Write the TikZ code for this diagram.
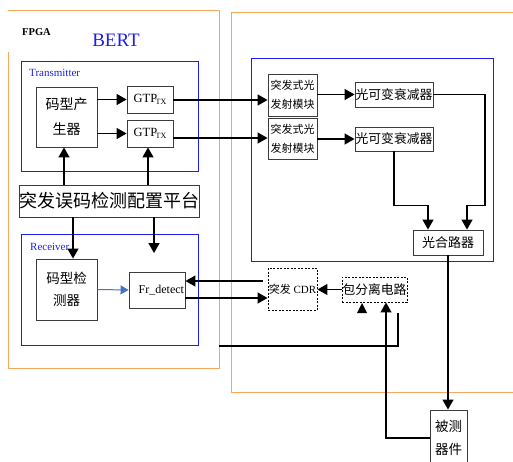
\documentclass[tikz,border=0pt]{standalone}
\usepackage{fontspec}
\setmainfont{Liberation Serif}
\newfontfamily\cjk{Noto Sans CJK SC}
\usetikzlibrary{arrows.meta,calc}
\definecolor{orng}{RGB}{248,168,92}
\definecolor{bbl}{RGB}{30,30,235}
\definecolor{ablue}{RGB}{70,115,195}
\definecolor{bord}{RGB}{60,60,60}
\begin{document}
\begin{tikzpicture}[x=1pt,y=-1pt,
  box/.style={draw=bord, line width=0.9pt, inner sep=0pt, align=center},
  dbox/.style={box, draw=black, dash pattern=on 2pt off 1.5pt},
  conn/.style={line width=1.4pt},
  arr/.style={conn, -{Triangle[length=10pt,width=11pt]}},
  frame/.style={draw=orng, line width=1pt},
  bframe/.style={draw=bbl, line width=1pt},
  lbl/.style={text=bbl, inner sep=0pt, anchor=west, font=\fontsize{11}{13}\selectfont}
  ]
\useasboundingbox (0,0) rectangle (513,462);
\clip (0,0) rectangle (513,462);
% frames
\draw[frame] (8,52) -- (8,368) -- (219,368) -- (219,11) -- (8,11);
\draw[frame] (513,13) -- (231,13) -- (231,392) -- (513,392);
\draw[bframe] (21,62) rectangle (198,172);
\draw[bframe] (21,234) rectangle (198,345);
\draw[bframe] (251,59) rectangle (493,261);
% labels
\node[font=\fontsize{10.5}{12}\selectfont\bfseries] (fpga) at (36.5,32) {FPGA};
\node[text=bbl, font=\fontsize{19}{22}\selectfont] (bert) at (116,40) {BERT};
\node[lbl] (txl) at (29,73) {Transmitter};
\node[lbl] (rxl) at (30,247) {Receiver};
% boxes
\node[box, minimum width=61, minimum height=60, font=\cjk\fontsize{14}{25}\selectfont] (gen) at (66.5,117) {码型产\\生器};
\node[box, minimum width=46, minimum height=27, font=\fontsize{12.5}{14}\selectfont] (gtp1) at (150,99.5) {GTP\kern-1.5pt{\fontsize{8}{9}\selectfont\raisebox{-2.5pt}{TX}}};
\node[box, minimum width=46, minimum height=27, font=\fontsize{12.5}{14}\selectfont] (gtp2) at (150,133.5) {GTP\kern-1.5pt{\fontsize{8}{9}\selectfont\raisebox{-2.5pt}{TX}}};
\node[box, minimum width=177, minimum height=32, font=\cjk\fontsize{18}{20}\selectfont] (cfg) at (109.5,201) {突发误码检测配置平台};
\node[box, minimum width=61, minimum height=61, font=\cjk\fontsize{13.5}{22}\selectfont] (det) at (66.5,289.5) {码型检\\测器};
\node[box, minimum width=56, minimum height=36, text width=54, align=right, font=\fontsize{12}{14}\selectfont] (fr) at (157,290) {Fr\_detect};
\node[dbox, minimum width=49, minimum height=42, font=\fontsize{11}{13}\selectfont] (cdr) at (292.5,289) {{\cjk 突发} CDR};
\node[dbox, minimum width=65, minimum height=25, font=\cjk\fontsize{12.8}{15}\selectfont] (pkt) at (374.5,289.5) {包分离电路};
\node[box, minimum width=49, minimum height=42, font=\cjk\fontsize{11}{19}\selectfont] (tx1) at (292.5,95) {突发式光\\发射模块};
\node[box, minimum width=49, minimum height=41, font=\cjk\fontsize{11}{19}\selectfont] (tx2) at (292.5,138.5) {突发式光\\发射模块};
\node[box, minimum width=78, minimum height=25, font=\cjk\fontsize{12.8}{15}\selectfont] (att1) at (394,94.5) {光可变衰减器};
\node[box, minimum width=78, minimum height=24, font=\cjk\fontsize{12.8}{15}\selectfont] (att2) at (394,139) {光可变衰减器};
\node[box, minimum width=70, minimum height=25, font=\cjk\fontsize{13}{15}\selectfont] (comb) at (448,242.5) {光合路器};
\node[box, minimum width=37, minimum height=56, font=\cjk\fontsize{13.5}{23}\selectfont] (dut) at (448.5,438) {被测\\器件};
% connectors
\draw[arr] (gen.east |- gtp1.west) -- (gtp1.west);
\draw[arr] (gen.east |- gtp2.west) -- (gtp2.west);
\coordinate (t1) at ([yshift=-0.5pt]gtp1.east);
\draw[arr] (t1) -- (t1 -| tx1.west);
\coordinate (t2) at ([yshift=-4.5pt]gtp2.east);
\draw[arr] (t2) -- (t2 -| tx2.west);
\draw[arr] (tx1.east |- att1.west) -- (att1.west);
\draw[arr] (tx2.east |- att2.west) -- (att2.west);
\coordinate (cr1) at ([xshift=37pt,yshift=24pt]comb.north);
\coordinate (cin1) at ([xshift=19pt]comb.north);
\coordinate (cin2) at ([xshift=-20pt]comb.north);
\draw[arr] (att1.east) -| (cr1) -| (cin1);
\draw[arr] (att2.south) |- ([yshift=24pt]cin2) -- (cin2);
\draw[arr] (comb.south) -- (comb.south |- dut.north);
\coordinate (g1) at ([xshift=-2.5pt]gen.south);
\draw[arr] (g1 |- cfg.north) -- (g1);
\coordinate (g2) at ([xshift=-2pt]gtp2.south);
\draw[arr] (g2 |- cfg.north) -- (g2);
\coordinate (d1) at ([xshift=6.5pt]det.north);
\draw[arr] (d1 |- cfg.south) -- (d1);
\coordinate (frin) at (154,253);
\draw[arr] (frin |- cfg.south) -- (frin);
\draw[ablue, line width=1pt, -{Triangle[length=8pt,width=9pt]}] (det.east) -- (fr.west);
\coordinate (c1) at ([xshift=-5pt,yshift=8pt]cdr.west);
\draw[arr] (c1) -- (c1 -| fr.east);
\coordinate (f2) at ([yshift=-8pt]fr.east);
\draw[arr] (f2) -- (f2 -| cdr.west);
\draw[arr] (pkt.west) -- (pkt.west -| cdr.east);
\coordinate (p1) at ([xshift=11.5pt]pkt.south);
\draw[arr] (dut.west) -| (p1);
\coordinate (o1) at (219,346);
\coordinate (o2) at (398,313);
\draw[conn] (o1) -| (o2);
\coordinate (ah) at (362,303);
\fill (ah) -- ++(-5,10) -- ++(10,0) -- cycle;
\end{tikzpicture}
\end{document}
